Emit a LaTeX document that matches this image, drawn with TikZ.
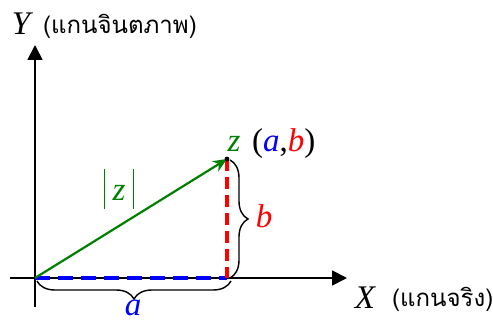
\documentclass[tikz,border=0pt]{standalone}
\usepackage{fontspec}
\setmainfont{Liberation Serif}
\newfontfamily\thaifont[Script=Thai]{Loma}
\usetikzlibrary{arrows.meta,decorations.pathreplacing,positioning}
\definecolor{zgreen}{HTML}{008000}

\begin{document}
\begin{tikzpicture}[x=1pt,y=-1pt,
  axis/.style={draw=black, line width=1.8pt, -{Triangle[length=15pt,width=15pt]}},
  vec/.style={draw=zgreen, line width=2.2pt, -{Stealth[length=14pt,width=12pt]}},
  reddash/.style={draw=red, line width=3.4pt, dash pattern=on 12pt off 6pt},
  bluedash/.style={draw=blue, line width=3.4pt, dash pattern=on 15pt off 8pt},
  brc/.style={draw=black, line width=1.4pt, decorate,
              decoration={brace, amplitude=18pt}},
  lbl/.style={font=\fontsize{33}{35}\selectfont\itshape, inner sep=0pt},
  thai/.style={font=\fontsize{24}{26}\selectfont\thaifont, inner sep=0pt}
]
  \useasboundingbox (0,0) rectangle (493,320);

  % points
  \coordinate (O)  at (35,278);
  \coordinate (P)  at (227,159);
  \coordinate (Px) at (227,278);
  \coordinate (xs) at (10,278);
  \coordinate (xe) at (347,278);
  \coordinate (ys) at (35,307);
  \coordinate (ye) at (35,45);

  % axes
  \draw[axis] (xs) -- (xe);
  \draw[axis] (ys) -- (ye);

  % components
  \draw[bluedash] (O) -- (Px);
  \draw[reddash]  (P) -- (Px);
  \draw[vec] (O) -- (P);
  \fill (P) circle (2.4pt);

  % braces
  \coordinate (bt) at (230,160);
  \coordinate (bb) at (230,278);
  \coordinate (ar) at (231,281);
  \coordinate (al) at (37,281);
  \draw[brc] (bt) -- (bb);
  \draw[brc] (ar) -- (al);

  % labels
  \node[lbl, anchor=base] (ylab) at (21,35) {Y};
  \node[thai, anchor=base west] (ytxt) at (43,34) {(แกนจินตภาพ)};
  \node[lbl, anchor=base] (xlab) at (365,309) {X};
  \node[thai, anchor=base west] (xtxt) at (392,307) {(แกนจริง)};
  \node[lbl, text=zgreen, anchor=base] (zlab) at (234,152) {z};
  \node[lbl, anchor=base west] (ab) at (252,152)
    {{\upshape(}\textcolor{blue}{a}{\upshape,}\textcolor{red}{b}{\upshape)}};
  \node[lbl, text=zgreen, anchor=base] (mod) at (119,201)
    {\rule[-8pt]{1pt}{40pt}\hspace{8pt}z\hspace{8pt}\rule[-8pt]{1pt}{40pt}};
  \node[lbl, text=red, anchor=base] (blab) at (264,228) {b};
  \node[lbl, text=blue, anchor=base] (alab) at (133,316) {a};
\end{tikzpicture}
\end{document}
